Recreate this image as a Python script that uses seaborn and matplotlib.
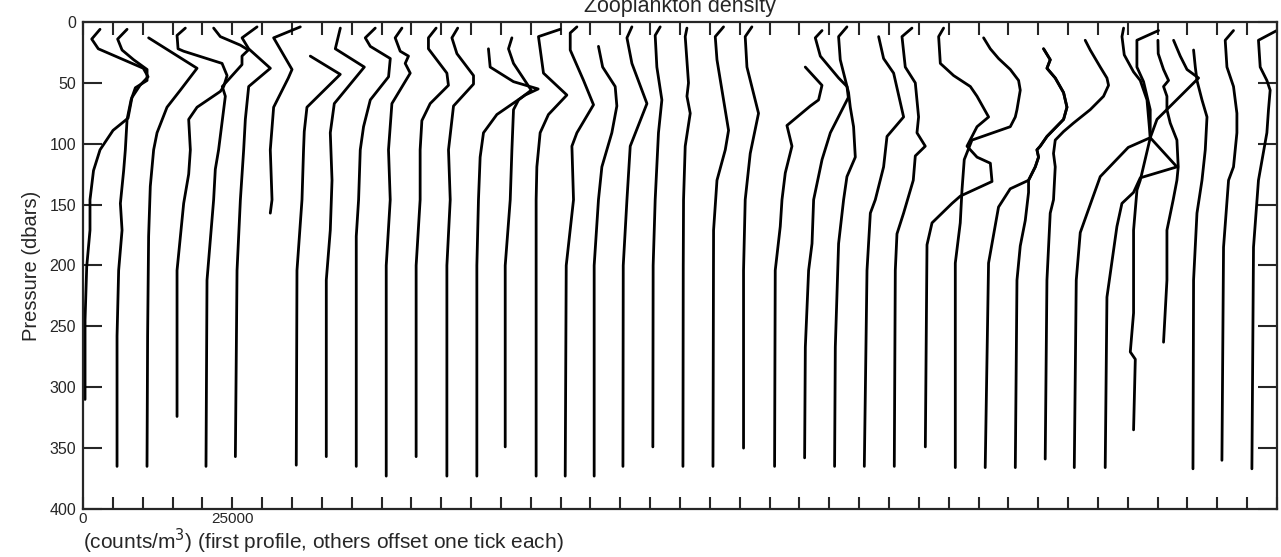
import numpy as np
import pandas as pd
import matplotlib
matplotlib.use("Agg")
import matplotlib.pyplot as plt
import seaborn as sns

# Zooplankton density profiles, counts/m^3 in thousands, pressure in dbars.
# Profile k is drawn offset by k * 5000 counts/m^3 (one tick each).
TICK = 5000

p00 = [6, 14, 22, 38, 45, 52, 62, 79, 89, 105, 122, 146, 171, 201, 245, 310]
c00 = [2.85, 1.46, 2.56, 10.1, 10.9, 9.55, 8.2, 7.54, 5.03, 2.85, 1.76, 1.17, 1.17, 0.62, 0.34, 0.34]
p01 = [6, 14, 23, 31, 39, 48, 54, 64, 80, 105, 122, 149, 171, 204, 258, 365]
c01 = [2.38, 0.80, 1.54, 3.48, 5.73, 5.73, 3.77, 3.05, 2.38, 2.09, 1.81, 1.26, 1.54, 0.97, 0.70, 0.70]
p02 = [13, 38, 56, 70, 91, 105, 135, 176, 258, 365]
c02 = [0.99, 9.10, 6.30, 4.07, 2.40, 1.83, 1.27, 0.99, 0.82, 0.72]
p03 = [5, 11, 22, 24, 34, 44, 53, 57, 70, 80, 105, 125, 149, 204, 324]
c03 = [2.14, 0.75, 0.92, 1.86, 8.29, 9.13, 8.56, 8.01, 4.10, 2.70, 2.98, 2.70, 1.86, 0.75, 0.75]
p04 = [5, 12, 19, 23, 28, 35, 53, 61, 105, 121, 146, 212, 365]
c04 = [1.88, 3.00, 6.35, 7.69, 6.63, 6.63, 3.33, 3.84, 2.71, 2.16, 1.88, 0.77, 0.60]
p05 = [4, 13, 22, 38, 53, 80, 105, 146, 204, 357]
c05 = [4.15, 1.64, 2.75, 6.38, 2.75, 2.19, 1.91, 1.36, 0.80, 0.52]
p06 = [4, 13, 39, 46, 70, 105, 146, 157]
c06 = [6.40, 1.93, 5.01, 4.39, 1.93, 1.37, 1.66, 1.37]
p07 = [28, 43, 70, 90, 105, 146, 204, 364]
c07 = [3.07, 8.09, 2.51, 2.06, 1.94, 1.68, 0.84, 0.72]
p08 = [5, 22, 37, 67, 91, 130, 171, 212, 357]
c08 = [3.10, 2.26, 7.12, 2.09, 1.42, 1.71, 1.42, 0.75, 0.75]
p09 = [5, 13, 20, 30, 45, 64, 86, 105, 146, 176, 365]
c09 = [3.95, 2.28, 3.12, 6.47, 6.18, 3.12, 1.99, 1.44, 1.16, 0.77, 0.77]
p10 = [5, 13, 24, 28, 34, 42, 67, 105, 146, 200, 373]
c10 = [3.42, 2.29, 3.13, 4.52, 3.97, 4.81, 1.74, 1.17, 1.46, 0.79, 0.79]
p11 = [5, 13, 22, 42, 52, 67, 81, 105, 146, 200, 357]
c11 = [4.15, 2.86, 2.86, 5.95, 6.21, 3.15, 1.76, 1.47, 1.47, 0.80, 0.80]
p12 = [5, 13, 26, 44, 51, 69, 105, 146, 200, 373]
c12 = [2.76, 1.79, 2.63, 5.41, 5.41, 2.06, 1.22, 1.51, 0.95, 0.95]
p13 = [22, 37, 49, 55, 60, 76, 91, 111, 146, 200, 373]
c13 = [2.91, 3.20, 7.10, 11.24, 9.06, 4.32, 2.08, 1.52, 1.24, 0.97, 0.97]
p14 = [13, 22, 34, 56, 64, 72, 105, 146, 200, 349]
c14 = [1.84, 1.27, 2.11, 5.08, 2.95, 2.11, 1.84, 1.56, 0.72, 0.72]
p15 = [6, 12, 42, 60, 76, 91, 119, 146, 373]
c15 = [4.92, 1.29, 2.13, 6.05, 2.96, 1.57, 1.02, 0.90, 0.90]
p16 = [4, 9, 23, 48, 68, 91, 102, 146, 200, 373]
c16 = [2.73, 1.61, 1.61, 3.84, 5.51, 2.73, 1.89, 2.16, 0.94, 0.77]
p17 = [20, 37, 53, 69, 91, 119, 146, 200, 373]
c17 = [1.34, 2.04, 4.14, 4.42, 3.58, 1.91, 1.34, 0.62, 0.62]
p18 = [4, 13, 34, 67, 102, 146, 200, 365]
c18 = [1.94, 1.11, 1.94, 4.46, 1.66, 1.11, 0.49, 0.44]
p19 = [4, 11, 37, 64, 91, 146, 200, 349]
c19 = [1.68, 0.84, 1.12, 1.96, 1.39, 0.84, 0.50, 0.45]
p20 = [5, 12, 50, 61, 75, 102, 146, 200, 365]
c20 = [1.16, 0.87, 1.42, 1.16, 1.71, 0.87, 0.59, 0.54, 0.49]
p21 = [4, 12, 31, 89, 105, 130, 171, 365]
c21 = [2.29, 0.90, 1.19, 3.13, 2.58, 1.19, 0.62, 0.52]
p22 = [4, 12, 37, 75, 108, 146, 204, 350]
c22 = [2.04, 0.92, 1.21, 3.15, 1.76, 0.92, 0.64, 0.64]
p23 = [37, 52, 64, 69, 85, 102, 124, 146, 168, 204, 365]
c23 = [5.98, 8.78, 8.21, 6.82, 2.91, 3.75, 2.63, 2.08, 1.79, 0.95, 0.84]
p24 = [7, 13, 28, 46, 53, 62, 91, 113, 146, 182, 204, 267, 358]
c24 = [3.79, 2.66, 3.50, 6.57, 7.97, 8.19, 5.18, 3.79, 2.38, 2.11, 1.54, 0.99, 0.87]
p25 = [4, 12, 31, 58, 70, 86, 111, 127, 146, 182, 267, 365]
c25 = [2.96, 1.56, 1.84, 3.23, 3.52, 4.07, 4.36, 2.96, 2.40, 1.56, 1.01, 0.89]
p26 = [12, 30, 42, 78, 94, 119, 146, 157, 204, 365]
c26 = [3.27, 4.10, 5.78, 7.45, 4.67, 4.10, 2.71, 1.88, 1.32, 0.87]
p27 = [5, 12, 37, 50, 78, 91, 102, 110, 130, 157, 174, 204, 365]
c27 = [3.85, 2.18, 2.73, 4.41, 4.96, 4.69, 6.08, 4.41, 4.07, 2.45, 1.34, 1.06, 0.89]
p28 = [5, 12, 34, 39, 44, 53, 61, 78, 86, 94, 102, 111, 116, 131, 143, 149, 165, 183, 349]
c28 = [4.15, 3.32, 3.60, 4.72, 5.83, 8.63, 9.75, 11.69, 9.75, 8.91, 8.07, 9.75, 11.98,
       12.26, 6.95, 5.56, 2.21, 1.37, 1.09]
p29 = [13, 22, 30, 39, 48, 56, 72, 78, 86, 97, 113, 138, 165, 198, 366]
c29 = [5.85, 6.97, 8.36, 10.32, 11.71, 11.99, 11.44, 11.16, 10.32, 3.90, 2.61, 2.23, 1.94,
       1.11, 1.11]
p30 = [22, 31, 38, 46, 58, 70, 80, 94, 102, 105, 111, 119, 130, 137, 152, 198, 366]
c30 = [10.89, 12.01, 11.46, 12.85, 14.24, 14.81, 14.24, 11.46, 10.33, 9.78, 10.05, 9.50,
       8.38, 5.31, 3.35, 1.68, 1.12]
p31 = [22, 31, 38, 46, 58, 70, 80, 94, 102, 105, 111, 119, 130, 140, 163, 184, 212, 366]
c31 = [5.90, 7.02, 6.47, 7.86, 9.25, 9.82, 9.25, 6.47, 5.34, 4.79, 5.06, 4.51, 3.38, 3.38,
       2.83, 1.99, 1.44, 1.16]
p32 = [15, 23, 37, 46, 52, 61, 72, 83, 90, 97, 108, 119, 146, 157, 212, 359]
c32 = [7.87, 8.71, 10.39, 11.51, 11.78, 10.94, 8.71, 5.91, 4.24, 2.85, 2.56, 2.85, 2.56,
       2.01, 1.46, 1.17]
p33 = [5, 12, 27, 41, 48, 64, 95, 103, 127, 146, 173, 212, 366]
c33 = [9.30, 9.03, 9.41, 10.97, 12.09, 13.22, 13.77, 10.08, 5.39, 4.00, 2.04, 1.37, 1.04]
p34 = [7, 15, 37, 49, 72, 95, 119, 128, 140, 149, 168, 226, 366]
c34 = [10.15, 6.53, 6.53, 7.64, 8.76, 8.76, 13.23, 7.09, 5.96, 4.02, 3.18, 1.51, 1.22]
p35 = [15, 28, 39, 46, 80, 95, 130, 138, 171, 239, 271, 277, 335]
c35 = [7.67, 8.79, 9.92, 11.86, 4.89, 3.77, 2.09, 1.54, 0.97, 0.97, 0.42, 1.26, 0.97]
p36 = [15, 26, 39, 48, 53, 61, 72, 83, 97, 119, 130, 146, 171, 212, 263]
c36 = [0.05, 0.10, 0.99, 1.83, 0.99, 1.56, 1.56, 2.11, 3.23, 3.45, 3.23, 2.61, 1.56, 1.56, 0.99]
p37 = [23, 37, 48, 64, 78, 105, 130, 157, 212, 367]
c37 = [1.02, 1.31, 1.59, 2.43, 3.27, 2.98, 2.43, 1.59, 1.02, 0.92]
p38 = [7, 15, 37, 53, 75, 91, 119, 130, 185, 360]
c38 = [2.71, 1.32, 1.61, 2.71, 3.28, 3.28, 2.71, 1.88, 1.04, 0.77]
p39 = [7, 15, 37, 48, 56, 72, 91, 130, 185, 367]
c39 = [4.97, 1.89, 2.18, 3.30, 3.85, 3.57, 3.30, 1.89, 1.06, 0.79]

profiles = [
    (p00, c00), (p01, c01), (p02, c02), (p03, c03), (p04, c04),
    (p05, c05), (p06, c06), (p07, c07), (p08, c08), (p09, c09),
    (p10, c10), (p11, c11), (p12, c12), (p13, c13), (p14, c14),
    (p15, c15), (p16, c16), (p17, c17), (p18, c18), (p19, c19),
    (p20, c20), (p21, c21), (p22, c22), (p23, c23), (p24, c24),
    (p25, c25), (p26, c26), (p27, c27), (p28, c28), (p29, c29),
    (p30, c30), (p31, c31), (p32, c32), (p33, c33), (p34, c34),
    (p35, c35), (p36, c36), (p37, c37), (p38, c38), (p39, c39),
]

# Long table: one row per vertex, x shifted by one tick per profile
rows = []
for k, (pres, cnt) in enumerate(profiles):
    for order, (pp, cc) in enumerate(zip(pres, cnt)):
        rows.append({"profile": k, "order": order, "pressure": pp,
                     "x": cc * 1000 + k * TICK})
df = pd.DataFrame(rows)

sns.set_style("ticks")
plt.rcParams["font.family"] = ["Liberation Sans", "DejaVu Sans"]

fig = plt.figure(figsize=(12.81, 5.57), dpi=100)
ax = fig.add_axes([0.0648, 0.0862, 0.9321, 0.8743])

sns.lineplot(data=df, x="x", y="pressure", units="profile", estimator=None,
             sort=False, color="black", linewidth=2, ax=ax, legend=False)

ax.set_xlim(0, 40 * TICK)
ax.set_ylim(400, 0)

# Ticks: every 5000 along x, only 0 and 25000 labelled
xt = np.arange(0, 40 * TICK + 1, TICK)
ax.set_xticks(xt)
ax.set_xticklabels(["0" if v == 0 else ("25000" if v == 25000 else "") for v in xt])
ax.set_yticks(np.arange(0, 401, 50))
ax.tick_params(axis="x", direction="in", length=9, width=1.5, top=True,
               labelsize=11, pad=2)
ax.tick_params(axis="y", direction="in", length=14, width=1.5, right=True,
               labelsize=11.5, pad=5)

for s in ax.spines.values():
    s.set_linewidth(1.6)
    s.set_visible(True)

ax.set_ylabel("Pressure (dbars)", fontsize=14.5, labelpad=6)
ax.set_xlabel("(counts/m$^3$) (first profile, others offset one tick each)",
              fontsize=15, loc="left", labelpad=1)
ax.set_title("Zooplankton density", fontsize=15.5, pad=7)

fig.savefig("out.png", dpi=100)
